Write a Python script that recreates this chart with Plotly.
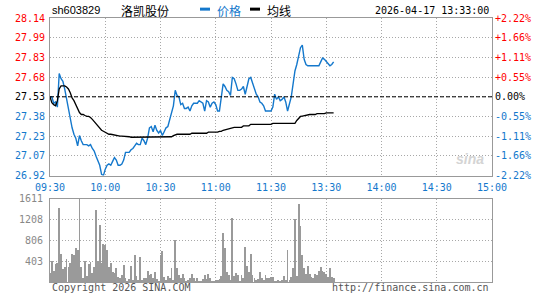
import plotly.graph_objects as go

# ---------------- data ----------------
prev_close = 27.53
price_low, price_high = 26.92, 28.14
vol_max = 1611

price = [27.53, 27.53, 27.48, 27.49, 27.45, 27.71, 27.67, 27.65, 27.59, 27.51,
         27.42, 27.35, 27.29, 27.24, 27.21, 27.15, 27.23, 27.19, 27.16, 27.16,
         27.16, 27.15, 27.16, 27.13, 27.11, 27.07, 27.04, 27.00, 26.93, 26.92,
         26.97, 27.00, 27.01, 27.00, 27.03, 27.06, 27.04, 27.00, 27.00, 27.01,
         27.04, 27.10, 27.10, 27.10, 27.12, 27.13, 27.15, 27.17, 27.16, 27.16,
         27.21, 27.19, 27.16, 27.21, 27.29, 27.30, 27.26, 27.31, 27.27, 27.25,
         27.27, 27.23, 27.26, 27.29, 27.30, 27.35, 27.42, 27.46, 27.58, 27.54,
         27.53, 27.47, 27.48, 27.44, 27.44, 27.45, 27.42, 27.46, 27.48, 27.48,
         27.48, 27.50, 27.49, 27.48, 27.42, 27.50, 27.49, 27.45, 27.48, 27.49,
         27.47, 27.42, 27.42, 27.51, 27.63, 27.61, 27.58, 27.57, 27.54, 27.68,
         27.67, 27.63, 27.58, 27.58, 27.59, 27.61, 27.55, 27.61, 27.67, 27.68,
         27.64, 27.59, 27.55, 27.53, 27.49, 27.48, 27.46, 27.42, 27.42, 27.42,
         27.42, 27.45, 27.55, 27.51, 27.53, 27.50, 27.51, 27.53, 27.49, 27.42,
         27.48, 27.53, 27.63, 27.73, 27.78, 27.84, 27.91, 27.93, 27.82, 27.78,
         27.77, 27.77, 27.77, 27.77, 27.77, 27.77, 27.77, 27.80, 27.83, 27.82,
         27.80, 27.78, 27.77, 27.78, 27.80]

avg_price = [27.530, 27.484, 27.469, 27.461, 27.500, 27.591, 27.614, 27.614, 27.614, 27.606,
             27.591, 27.561, 27.522, 27.500, 27.469, 27.446, 27.408, 27.393, 27.393, 27.385,
             27.378, 27.378, 27.370, 27.355, 27.339, 27.317, 27.301, 27.286, 27.271, 27.263,
             27.256, 27.248, 27.240, 27.240, 27.236, 27.233, 27.233, 27.229, 27.225, 27.225,
             27.225, 27.221, 27.221, 27.221, 27.217, 27.217, 27.217, 27.217, 27.217, 27.217,
             27.217, 27.217, 27.217, 27.217, 27.217, 27.217, 27.217, 27.217, 27.217, 27.217,
             27.217, 27.217, 27.217, 27.217, 27.217, 27.217, 27.221, 27.229, 27.236, 27.240,
             27.240, 27.240, 27.240, 27.240, 27.240, 27.240, 27.240, 27.248, 27.248, 27.248,
             27.248, 27.248, 27.248, 27.248, 27.248, 27.248, 27.256, 27.256, 27.256, 27.256,
             27.256, 27.256, 27.263, 27.263, 27.271, 27.275, 27.278, 27.282, 27.286, 27.294,
             27.294, 27.294, 27.294, 27.294, 27.294, 27.305, 27.305, 27.305, 27.305, 27.317,
             27.317, 27.317, 27.317, 27.317, 27.317, 27.317, 27.317, 27.317, 27.317, 27.317,
             27.317, 27.324, 27.324, 27.324, 27.324, 27.324, 27.324, 27.324, 27.324, 27.324,
             27.324, 27.324, 27.324, 27.324, 27.347, 27.362, 27.378, 27.381, 27.385, 27.389,
             27.393, 27.393, 27.393, 27.393, 27.393, 27.400, 27.400, 27.400, 27.400, 27.400,
             27.406, 27.406, 27.406, 27.406, 27.406]

volume = [186, 416, 224, 352, 378, 1438, 556, 249, 301, 455,
          301, 364, 556, 525, 671, 621, 1611, 301, 77, 416,
          120, 352, 397, 186, 301, 1400, 416, 1101, 378, 748,
          717, 621, 301, 364, 205, 186, 269, 109, 77, 141,
          333, 90, 32, 60, 314, 45, 525, 122, 40, 480,
          45, 90, 77, 224, 141, 160, 77, 205, 58, 30,
          525, 608, 109, 45, 122, 77, 269, 45, 825, 269,
          141, 77, 160, 77, 32, 40, 77, 160, 77, 32,
          77, 32, 32, 58, 141, 58, 160, 77, 32, 20,
          45, 45, 58, 122, 953, 666, 205, 141, 45, 1241,
          122, 173, 141, 32, 141, 77, 685, 314, 205, 556,
          141, 77, 45, 58, 205, 77, 45, 141, 77, 90,
          109, 109, 20, 32, 45, 20, 45, 122, 45, 633,
          45, 109, 269, 1222, 122, 1515, 1082, 525, 269, 160,
          314, 160, 109, 77, 160, 141, 224, 301, 224, 205,
          160, 109, 269, 109, 77]

price_tick_labels = ["26.92", "27.07", "27.23", "27.38", "27.53",
                     "27.68", "27.83", "27.99", "28.14"]
pct_tick_labels = ["-2.22%", "-1.66%", "-1.11%", "-0.55%", "0.00%",
                   "+0.55%", "+1.11%", "+1.66%", "+2.22%"]
vol_ticks = [403, 806, 1208, 1611]
vol_tick_labels = ["403", "806", "1208", "1611"]
time_ticks = [0, 30, 60, 90, 120, 150, 180, 210, 240]
time_labels = ["09:30", "10:00", "10:30", "11:00", "11:30",
               "13:30", "14:00", "14:30", "15:00"]

# ---------------- style ----------------
BLUE = "#1478cc"
RED = "#ff0000"
GRID = "#a8a8a8"
FRAME = "#999999"
MONO = "DejaVu Sans Mono"
SANS = "Liberation Sans"
CJK = "Noto Sans CJK SC"

n_ticks = len(price_tick_labels)
price_ticks = [round(price_low + k * (price_high - price_low) / (n_ticks - 1), 6)
               for k in range(n_ticks)]
mid = n_ticks // 2


def colored(labels):
    out = []
    for k, t in enumerate(labels):
        c = RED if k > mid else ("#000000" if k == mid else BLUE)
        out.append(f'<span style="color:{c}">{t}</span>')
    return out


x_idx = list(range(len(price)))

fig = go.Figure()
fig.add_trace(go.Bar(x=list(range(len(volume))), y=volume, xaxis="x2", yaxis="y2",
                     width=0.45, marker=dict(color="#9a9a9a", line=dict(width=0)),
                     hoverinfo="skip"))
fig.add_trace(go.Scatter(x=x_idx, y=avg_price, mode="lines", xaxis="x", yaxis="y3",
                         line=dict(color="#000000", width=1.3), hoverinfo="skip"))
fig.add_trace(go.Scatter(x=x_idx, y=price, mode="lines", xaxis="x", yaxis="y",
                         line=dict(color=BLUE, width=1.4), hoverinfo="skip"))

main_bottom = (286 - 178) / 268
vol_top = (286 - 201.5) / 268

axis_common = dict(showline=True, linecolor=FRAME, linewidth=1, mirror=True,
                   zeroline=False, ticks="", showgrid=True, gridcolor=GRID,
                   gridwidth=1, griddash="1px,2px")

fig.update_layout(
    width=545, height=300,
    margin=dict(l=50, r=53, t=18, b=14),
    paper_bgcolor="white", plot_bgcolor="white",
    showlegend=False, bargap=0,
    xaxis=dict(domain=[0, 1], anchor="y", range=[0, 240],
               tickmode="array", tickvals=time_ticks, ticktext=time_labels,
               tickfont=dict(family=MONO, size=10, color=BLUE),
               ticklabelstandoff=2, **axis_common),
    yaxis=dict(domain=[main_bottom, 1], anchor="x", range=[price_low, price_high],
               tickmode="array", tickvals=price_ticks, ticktext=colored(price_tick_labels),
               tickfont=dict(family=MONO, size=10), ticklabelstandoff=2, **axis_common),
    yaxis3=dict(overlaying="y", anchor="x", side="right", range=[price_low, price_high],
                tickmode="array", tickvals=price_ticks, ticktext=colored(pct_tick_labels),
                tickfont=dict(family=MONO, size=10), ticklabelstandoff=2,
                showgrid=False, zeroline=False, showline=False, ticks=""),
    xaxis2=dict(domain=[0, 1], anchor="y2", range=[0, 240],
                tickmode="array", tickvals=time_ticks, showticklabels=False,
                **axis_common),
    yaxis2=dict(domain=[0, vol_top], anchor="x2", range=[0, vol_max],
                tickmode="array", tickvals=vol_ticks, ticktext=vol_tick_labels,
                tickfont=dict(family=MONO, size=10, color="#888888"),
                ticklabelstandoff=4, **axis_common),
)

# previous-close reference line
fig.add_shape(type="line", xref="x domain", yref="y", x0=0, x1=1,
              y0=prev_close, y1=prev_close,
              line=dict(color="#000000", width=1, dash="4px,2px"))


def px_x(px):
    return (px - 50) / 442


def px_y(py):
    return (286 - py) / 268


# header
fig.add_annotation(x=px_x(50), y=px_y(10), xref="paper", yref="paper",
                   text="sh603829", showarrow=False, xanchor="left", yanchor="middle",
                   font=dict(family=SANS, size=11, color="#000000"))
fig.add_annotation(x=px_x(119), y=px_y(10), xref="paper", yref="paper",
                   text="洛凯股份", showarrow=False, xanchor="left", yanchor="middle",
                   font=dict(family=CJK, size=12, color="#000000"))
fig.add_shape(type="line", xref="paper", yref="paper", x0=px_x(200), x1=px_x(210),
              y0=px_y(9), y1=px_y(9), line=dict(color=BLUE, width=3))
fig.add_annotation(x=px_x(215), y=px_y(10), xref="paper", yref="paper",
                   text="价格", showarrow=False, xanchor="left", yanchor="middle",
                   font=dict(family=CJK, size=12, color=BLUE))
fig.add_shape(type="line", xref="paper", yref="paper", x0=px_x(250), x1=px_x(260),
              y0=px_y(9), y1=px_y(9), line=dict(color="#000000", width=3))
fig.add_annotation(x=px_x(265), y=px_y(10), xref="paper", yref="paper",
                   text="均线", showarrow=False, xanchor="left", yanchor="middle",
                   font=dict(family=CJK, size=12, color="#000000"))
fig.add_annotation(x=px_x(491), y=px_y(10), xref="paper", yref="paper",
                   text="2026-04-17 13:33:00", showarrow=False, xanchor="right",
                   yanchor="middle", font=dict(family=MONO, size=10, color="#000000"))

# footer
fig.add_annotation(x=px_x(50), y=px_y(292), xref="paper", yref="paper",
                   text="Copyright 2026 SINA.COM", showarrow=False, xanchor="left",
                   yanchor="middle", font=dict(family=MONO, size=10, color="#555555"))
fig.add_annotation(x=px_x(491), y=px_y(292), xref="paper", yref="paper",
                   text="http://finance.sina.com.cn", showarrow=False, xanchor="right",
                   yanchor="middle", font=dict(family=MONO, size=10, color="#555555"))

# watermark
fig.add_annotation(x=px_x(470), y=px_y(161), xref="paper", yref="paper",
                   text="<b><i>sina</i></b>", showarrow=False, xanchor="center",
                   yanchor="middle", font=dict(family=SANS, size=14, color="#d4d4d4"))

fig.write_html("out.html")
